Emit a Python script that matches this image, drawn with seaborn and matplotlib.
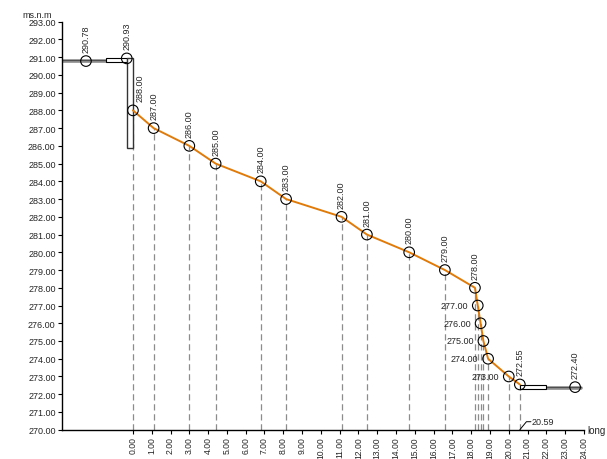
import numpy as np
import pandas as pd
import matplotlib
matplotlib.use("Agg")
import matplotlib.pyplot as plt
import matplotlib.patches as mpatches
import seaborn as sns

# profilo: distanze (long) e quote (ms.n.m)
dist_tratto = [0.0, 1.1, 3.0, 4.4, 6.8, 8.15, 11.1, 12.45, 14.7, 16.6,
               18.2, 18.35, 18.5, 18.65, 18.9, 20.0, 20.59]
quota_tratto = [288.00, 287.00, 286.00, 285.00, 284.00, 283.00, 282.00, 281.00,
                280.00, 279.00, 278.00, 277.00, 276.00, 275.00, 274.00, 273.00, 272.55]
# punti a monte e a valle
dist_monte = [-2.5, -0.33]
quota_monte = [290.78, 290.93]
dist_valle = [23.53]
quota_valle = [272.40]
# etichette orizzontali (a sinistra del punto)
quote_orizz = [277.00, 276.00, 275.00, 274.00, 273.00]
lung_finale = 20.59

x_ticks = np.arange(0, 25, 1)
y_ticks = np.arange(270, 294, 1)

sns.set_style("ticks")
plt.rcParams["font.family"] = ["Liberation Sans", "DejaVu Sans"]
fs = 6.5

fig = plt.figure(figsize=(6.07, 4.60), dpi=100)
ax = fig.add_axes([0.102, 0.0637, 0.860, 0.887])
ax.set_xlim(-3.78, 24)
ax.set_ylim(270, 293)

# linee tratteggiate verticali
for x, y in zip(dist_tratto, quota_tratto):
    ax.plot([x, x], [270, y], color="#8c8c8c", lw=0.9, dashes=(5, 3), zorder=1)

# tubo a monte e pozzetto
ax.plot([-3.78, -0.33], [290.78, 290.78], color="#8a8a8a", lw=2.6, zorder=2)
ax.plot([-3.78, -0.33], [290.84, 290.84], color="#444444", lw=0.6, zorder=2)
ax.add_patch(mpatches.Rectangle((-1.44, 290.71), 1.11, 0.26, facecolor="white",
                                edgecolor="black", lw=0.8, zorder=3))
ax.add_patch(mpatches.Rectangle((-0.33, 285.88), 0.33, 5.07, facecolor="white",
                                edgecolor="#333333", lw=1.0, zorder=3))

# tubo a valle
ax.plot([22.0, 23.85], [272.37, 272.37], color="#8a8a8a", lw=2.6, zorder=2)
ax.plot([22.0, 23.85], [272.43, 272.43], color="#444444", lw=0.6, zorder=2)
ax.add_patch(mpatches.Rectangle((20.59, 272.30), 1.41, 0.24, facecolor="white",
                                edgecolor="black", lw=0.8, zorder=3))

# profilo
df = pd.DataFrame({"long": dist_tratto, "quota": quota_tratto})
sns.lineplot(data=df, x="long", y="quota", sort=False, color="#e07b0a", lw=1.4,
             ax=ax, zorder=4)
tutti_x = dist_monte + dist_tratto + dist_valle
tutti_y = quota_monte + quota_tratto + quota_valle
sns.scatterplot(x=tutti_x, y=tutti_y, marker="o", s=58, color="none",
                edgecolor="black", linewidth=0.8, ax=ax, zorder=5)

# etichette quote
for x, y in zip(tutti_x, tutti_y):
    if y in quote_orizz:
        ax.annotate(f"{y:.2f}", (x, y), xytext=(-7, 0), textcoords="offset points",
                    ha="right", va="center", fontsize=fs)
    else:
        dx = 5 if y == 288.00 else 0
        ax.annotate(f"{y:.2f}", (x, y), xytext=(dx, 6.5), textcoords="offset points",
                    ha="center", va="bottom", rotation=90, fontsize=fs)

# lunghezza finale
ax.plot([lung_finale, 20.94, 21.18], [270, 270.45, 270.45], color="black", lw=0.7)
ax.text(21.22, 270.45, f"{lung_finale:.2f}", fontsize=fs, va="center", ha="left")

ax.set_xticks(x_ticks)
ax.set_xticklabels([f"{v:.2f}" for v in x_ticks], rotation=90, fontsize=fs - 0.3)
ax.set_yticks(y_ticks)
ax.set_yticklabels([f"{v:.2f}" for v in y_ticks], fontsize=fs)
ax.tick_params(axis="both", length=3, width=0.8, pad=1.5, color="black")
ax.set_xlabel("")
ax.set_ylabel("")
sns.despine(ax=ax)
for s in ["left", "bottom"]:
    ax.spines[s].set_linewidth(1.0)
    ax.spines[s].set_color("black")

fig.text(0.037, 0.966, "ms.n.m", fontsize=fs, va="center", ha="left")
fig.text(0.967, 0.0637, "long", fontsize=fs + 0.5, va="center", ha="left")

fig.savefig("out.png", dpi=100)
